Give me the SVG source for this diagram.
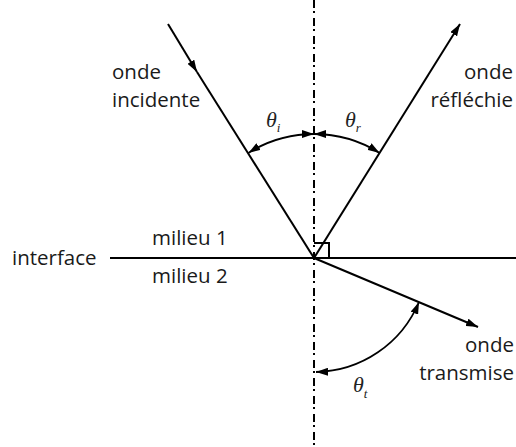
<svg xmlns="http://www.w3.org/2000/svg" width="516" height="447" viewBox="0 0 516 447">
<style>
.ln{stroke:#000;stroke-width:2;fill:none}
.arc{stroke:#000;stroke-width:1.8;fill:none;marker-start:url(#ah);marker-end:url(#ah)}
.lbl{font-family:"Open Sans","Noto Sans",sans-serif;font-size:20.5px;fill:#1a1a1a}
.th{font-family:"Liberation Serif",serif;font-style:italic;font-size:22px;fill:#222}
.sub{font-size:13px}
</style>
<defs>
<marker id="ah" viewBox="0 0 12 8" refX="12" refY="4" markerWidth="12" markerHeight="8" markerUnits="userSpaceOnUse" orient="auto-start-reverse">
<path d="M0,0 L12,4 L0,8 z" fill="#000"/>
</marker>
</defs>
<rect width="516" height="447" fill="#fff"/>
<g id="axis">
<line x1="314" y1="0" x2="314" y2="447" stroke="#000" stroke-width="2" stroke-dasharray="8 3 2 5"/>
</g>
<g id="interface">
<line class="ln" x1="110" y1="258" x2="516" y2="258" stroke-width="2.4"/>
<text class="lbl" x="12" y="265">interface</text>
<text class="lbl" x="152" y="245">milieu 1</text>
<text class="lbl" x="152" y="283">milieu 2</text>
</g>
<g id="right-angle">
<path class="ln" d="M314,243 H329 V258" stroke-width="1.5"/>
</g>
<g id="connectors">
<path class="ln" d="M168,24 L197,72" marker-end="url(#ah)"/>
<path class="ln" d="M197,72 L314,258"/>
<path class="ln" d="M314,258 L460,24" marker-end="url(#ah)"/>
<path class="ln" d="M314,258 L478,327" marker-end="url(#ah)"/>
<path class="arc" d="M314,134 A124,124 0 0 0 248.4,152.9"/>
<path class="arc" d="M314,134 A124,124 0 0 1 379.6,152.9"/>
<path class="arc" d="M419,302 A114,114 0 0 1 316,372"/>
</g>
<g id="incident">
<text class="lbl" x="112" y="79">onde</text>
<text class="lbl" x="112" y="107">incidente</text>
</g>
<g id="reflected">
<text class="lbl" x="513" y="79" text-anchor="end">onde</text>
<text class="lbl" x="513" y="107" text-anchor="end">réfléchie</text>
</g>
<g id="transmitted">
<text class="lbl" x="514" y="352" text-anchor="end">onde</text>
<text class="lbl" x="514" y="380" text-anchor="end">transmise</text>
</g>
<g id="angles">
<text class="th" x="266" y="127">θ<tspan class="sub" dy="5">i</tspan></text>
<text class="th" x="345" y="127">θ<tspan class="sub" dy="5">r</tspan></text>
<text class="th" x="353" y="392">θ<tspan class="sub" dy="6">t</tspan></text>
</g>
</svg>
